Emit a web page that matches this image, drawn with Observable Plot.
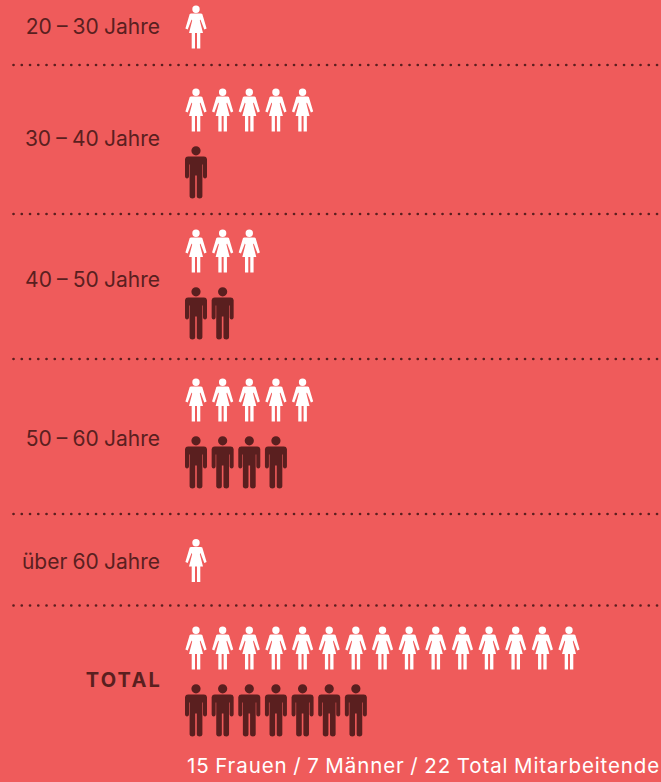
<!DOCTYPE html>
<html lang="de">
<head>
<meta charset="utf-8">
<script src="https://cdn.jsdelivr.net/npm/d3@7"></script>
<script src="https://cdn.jsdelivr.net/npm/@observablehq/plot@0.6"></script>
<style>
html,body{margin:0;padding:0;background:#EF5B5B;overflow:hidden}
svg{display:block}
.age-label text{word-spacing:-0.7px}
.total-label text{letter-spacing:2.2px}
.caption text{letter-spacing:0.9px;word-spacing:-1px}
</style>
</head>
<body>
<div id="chart"></div>
<script>
// Data
const ageGroups = ["20 – 30 Jahre", "30 – 40 Jahre", "40 – 50 Jahre", "50 – 60 Jahre", "über 60 Jahre"];
const women = [1, 5, 3, 5, 1];
const men = [0, 1, 2, 4, 0];
const totalLabel = "TOTAL";

// Layout (vertical positions on the y scale)
const womenRowY = [26.5, 109.5, 250.5, 399.5, 560, 647.5];
const menRowY = [null, 172, 313, 462, null, 710];
const labelY = [26.5, 138.5, 279.5, 438.5, 561.5, 680.5];
const separatorY = [64.5, 213.5, 358.5, 513.5, 605];
const labelColumn = -1.35, captionColumn = -0.34, ruleStart = -6.83, ruleEnd = 17.5;

const DARK = "#5A1F1F", WHITE = "#FFFFFF", BG = "#EF5B5B";

const sumW = d3.sum(women), sumM = d3.sum(men);
const counts = [...women, sumW].map((w, i) => ({w, m: [...men, sumM][i]}));

const womanDots = counts.flatMap((c, i) => d3.range(c.w).map(col => ({col, y: womenRowY[i]})));
const manDots = counts.flatMap((c, i) => d3.range(c.m).map(col => ({col, y: menRowY[i]})));
const labels = ageGroups.map((t, i) => ({t, y: labelY[i]}));

function poly(ctx, s, pts) {
  pts.forEach(([x, y], i) => i ? ctx.lineTo(x * s, y * s) : ctx.moveTo(x * s, y * s));
  ctx.closePath();
}
function disc(ctx, s, x, y, r) {
  ctx.moveTo((x + r) * s, y * s);
  ctx.arc(x * s, y * s, r * s, 0, 2 * Math.PI);
  ctx.closePath();
}
const unit = size => Math.sqrt(size / Math.PI) / 11;

const womanSymbol = {
  draw(ctx, size) {
    const s = unit(size);
    disc(ctx, s, 0, -17.8, 3.7);
    poly(ctx, s, [[-5, -13.4], [5, -13.4], [6.3, -13], [10.6, 1.6], [8.3, 2.6], [4.4, -7.4], [3.8, -6.5], [7, 6], [4.3, 6], [4.3, 21.6], [1, 21.6], [1, 6], [-1, 6], [-1, 21.6], [-4.3, 21.6], [-4.3, 6], [-7, 6], [-3.8, -6.5], [-4.4, -7.4], [-8.3, 2.6], [-10.6, 1.6], [-6.3, -13]]);
  }
};
const manSymbol = {
  draw(ctx, size) {
    const s = unit(size);
    disc(ctx, s, 0, -21.7, 4.6);
    poly(ctx, s, [[-8, -16], [8, -16], [10, -15.4], [11, -13.5], [11, 4], [10.4, 5.4], [9, 5.9], [7.6, 5.4], [7, 4], [7, -8], [6.4, -8], [6.4, 24], [5.6, 25.4], [3.7, 26], [1.5, 25.4], [0.8, 24], [0.8, 3], [-0.8, 3], [-0.8, 24], [-1.5, 25.4], [-3.7, 26], [-5.6, 25.4], [-6.4, 24], [-6.4, -8], [-7, -8], [-7, 4], [-7.6, 5.4], [-9, 5.9], [-10.4, 5.4], [-11, 4], [-11, -13.5], [-10, -15.4]]);
  }
};

const FONT = "Inter, sans-serif";
const plot = Plot.plot({
  width: 661,
  height: 782,
  margin: 0,
  style: {background: BG, fontFamily: FONT},
  x: {type: "linear", domain: [0, 14], range: [195.5, 568.5], axis: null},
  y: {type: "linear", domain: [0, 782], range: [0, 782], axis: null},
  marks: [
    Plot.ruleY(separatorY, {x1: ruleStart, x2: ruleEnd, stroke: DARK, strokeWidth: 2.7, strokeLinecap: "round", strokeDasharray: "0 8.25"}),
    Plot.dot(womanDots, {x: "col", y: "y", r: 11, symbol: womanSymbol, fill: WHITE, stroke: "none"}),
    Plot.dot(manDots, {x: "col", y: "y", r: 11, symbol: manSymbol, fill: DARK, stroke: "none"}),
    Plot.text(labels, {className: "age-label", x: () => labelColumn, y: "y", text: "t", textAnchor: "end", fill: DARK, fontSize: 21, fontFamily: FONT}),
    Plot.text([totalLabel], {className: "total-label", x: () => labelColumn, y: () => labelY[5], dx: 2, text: d => d, textAnchor: "end", fill: DARK, fontSize: 20, fontWeight: 700, fontFamily: FONT}),
    Plot.text([`${sumW} Frauen / ${sumM} Männer / ${sumW + sumM} Total Mitarbeitende`], {className: "caption", x: () => captionColumn, y: () => 766, text: d => d, textAnchor: "start", fill: WHITE, fontSize: 20.5, fontFamily: FONT})
  ]
});
document.getElementById("chart").append(plot);
</script>
</body>
</html>
